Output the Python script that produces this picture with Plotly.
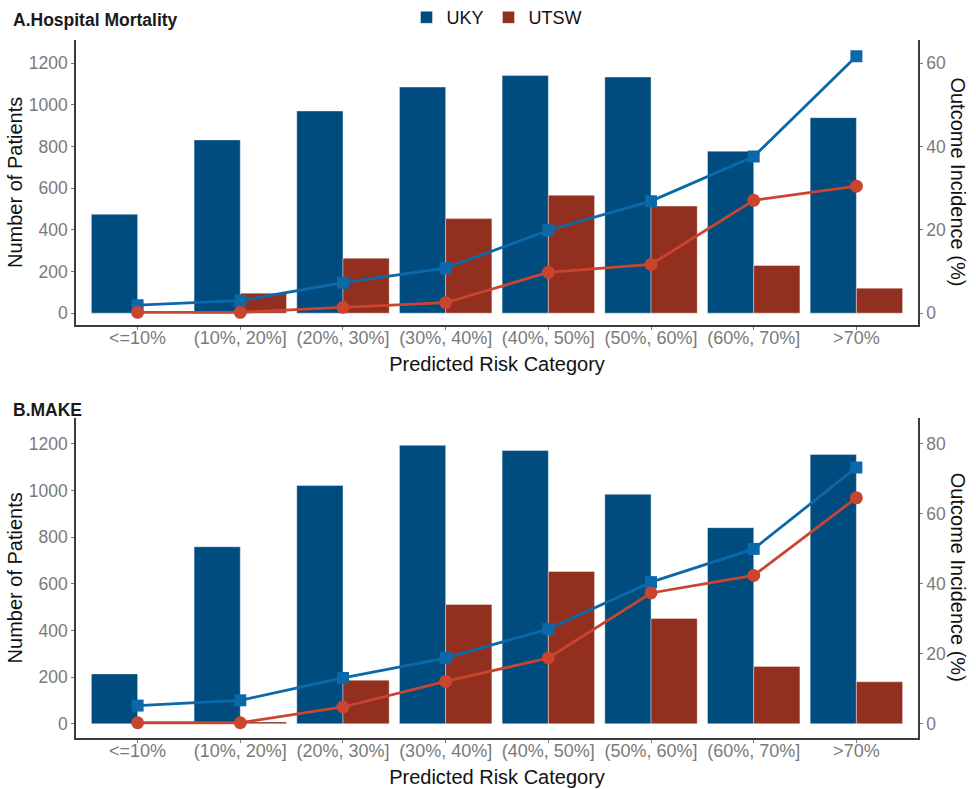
import plotly.graph_objects as go

categories = ["<=10%", "(10%, 20%]", "(20%, 30%]", "(30%, 40%]",
              "(40%, 50%]", "(50%, 60%]", "(60%, 70%]", ">70%"]

# A. Hospital mortality: patient counts and outcome incidence (%)
mort_n_uky = [475, 832, 971, 1086, 1141, 1134, 778, 939]
mort_n_utsw = [0, 96, 264, 454, 566, 514, 229, 120]
mort_pct_uky = [1.9, 3.0, 7.3, 10.8, 19.9, 26.9, 37.6, 61.7]
mort_pct_utsw = [0.2, 0.2, 1.4, 2.5, 9.8, 11.7, 27.1, 30.5]

# B. MAKE: patient counts and outcome incidence (%)
make_n_uky = [214, 759, 1022, 1194, 1172, 984, 841, 1155]
make_n_utsw = [0, 8, 187, 512, 653, 452, 246, 180]
make_pct_uky = [5.2, 6.7, 13.1, 18.8, 27.1, 40.5, 50.0, 73.3]
make_pct_utsw = [0.3, 0.3, 4.8, 12.1, 18.8, 37.4, 42.4, 64.6]

count_ticks = [0, 200, 400, 600, 800, 1000, 1200]
pct_ticks_a = [0, 20, 40, 60]
pct_ticks_b = [0, 20, 40, 60, 80]

BAR_UKY = "#004C7E"
BAR_UTSW = "#922F1F"
LINE_UKY = "#0B69AA"
LINE_UTSW = "#C9452F"
FONT = "Liberation Sans, Arial, sans-serif"
TICK_GREY = "#7a7a7a"
AXIS_DARK = "#3c3c3c"

fig = go.Figure()


def add_panel(xa, ya_bar, ya_line, n_uky, n_utsw, p_uky, p_utsw, legend):
    edge = dict(color="rgba(255,255,255,0.55)", width=0.7)
    fig.add_trace(go.Bar(x=categories, y=n_uky, name="UKY", marker=dict(color=BAR_UKY, line=edge),
                         xaxis=xa, yaxis=ya_bar, offsetgroup="uky", showlegend=legend,
                         legendgroup="UKY"))
    fig.add_trace(go.Bar(x=categories, y=n_utsw, name="UTSW", marker=dict(color=BAR_UTSW, line=edge),
                         xaxis=xa, yaxis=ya_bar, offsetgroup="utsw", showlegend=legend,
                         legendgroup="UTSW"))
    fig.add_trace(go.Scatter(x=categories, y=p_uky, mode="lines+markers", name="UKY",
                             line=dict(color=LINE_UKY, width=2.8),
                             marker=dict(symbol="square", size=12, color=LINE_UKY),
                             xaxis=xa, yaxis=ya_line, showlegend=False, legendgroup="UKY"))
    fig.add_trace(go.Scatter(x=categories, y=p_utsw, mode="lines+markers", name="UTSW",
                             line=dict(color=LINE_UTSW, width=2.8),
                             marker=dict(symbol="circle", size=13, color=LINE_UTSW),
                             xaxis=xa, yaxis=ya_line, showlegend=False, legendgroup="UTSW"))


add_panel("x", "y", "y2", mort_n_uky, mort_n_utsw, mort_pct_uky, mort_pct_utsw, True)
add_panel("x2", "y3", "y4", make_n_uky, make_n_utsw, make_pct_uky, make_pct_utsw, False)

x_common = dict(type="category", range=[-0.6, 7.6], showline=True, linecolor=AXIS_DARK,
                linewidth=1.5, ticks="outside", ticklen=3, tickcolor=TICK_GREY,
                ticklabelstandoff=-7,
                tickfont=dict(size=18, color=TICK_GREY, family=FONT), showgrid=False,
                zeroline=False, automargin=False,
                title=dict(text="Predicted Risk Category", font=dict(size=20, color="#111111"),
                           standoff=10))
y_common = dict(showline=True, linecolor=AXIS_DARK, linewidth=1.5, ticks="outside", ticklen=3,
                tickcolor=TICK_GREY, tickfont=dict(size=17.5, color=TICK_GREY, family=FONT),
                showgrid=False, zeroline=False, automargin=False)

count_range_a = [-56, 1312]
count_range_b = [-61, 1313]

fig.update_layout(
    width=976, height=789,
    margin=dict(l=76, r=58, t=40, b=51, autoexpand=False),
    paper_bgcolor="white", plot_bgcolor="white",
    font=dict(family=FONT, color="#111111"),
    barmode="group", bargap=0.1, bargroupgap=0,
    xaxis=dict(domain=[0, 1], anchor="y", **x_common),
    xaxis2=dict(domain=[0, 1], anchor="y3", **x_common),
    yaxis=dict(domain=[0.592, 1], anchor="x", range=count_range_a, tickvals=count_ticks,
               title=dict(text="Number of Patients", font=dict(size=20), standoff=1), **y_common),
    yaxis2=dict(overlaying="y", side="right", anchor="x",
                range=[v / 20 for v in count_range_a], tickvals=pct_ticks_a, **y_common),
    yaxis3=dict(domain=[0, 0.459], anchor="x2", range=count_range_b, tickvals=count_ticks,
                title=dict(text="Number of Patients", font=dict(size=20), standoff=1), **y_common),
    yaxis4=dict(overlaying="y3", side="right", anchor="x2",
                range=[v / 15 for v in count_range_b], tickvals=pct_ticks_b, **y_common),
    legend=dict(orientation="h", x=0.5, xanchor="center", y=1.032, yanchor="middle",
                font=dict(size=18, color="#111111"), itemwidth=30, tracegroupgap=0,
                bgcolor="rgba(0,0,0,0)"),
)

# Panel titles and right-hand axis titles (reading top to bottom)
annotations = [
    dict(text="<b>A.Hospital Mortality</b>", xref="paper", yref="paper", x=-65 / 842, y=1.029,
         xanchor="left", yanchor="middle", showarrow=False, font=dict(size=17.5, color="#1a1a1a")),
    dict(text="<b>B.MAKE</b>", xref="paper", yref="paper", x=-65 / 842, y=0.4703,
         xanchor="left", yanchor="middle", showarrow=False, font=dict(size=17.5, color="#1a1a1a")),
    dict(text="Outcome Incidence (%)", xref="paper", yref="y2 domain", x=1.0475, y=0.5,
         textangle=90, xanchor="center", yanchor="middle", showarrow=False,
         font=dict(size=20, color="#111111")),
    dict(text="Outcome Incidence (%)", xref="paper", yref="y4 domain", x=1.0475, y=0.5,
         textangle=90, xanchor="center", yanchor="middle", showarrow=False,
         font=dict(size=20, color="#111111")),
]
fig.update_layout(annotations=annotations)

fig.write_html("out.html")
